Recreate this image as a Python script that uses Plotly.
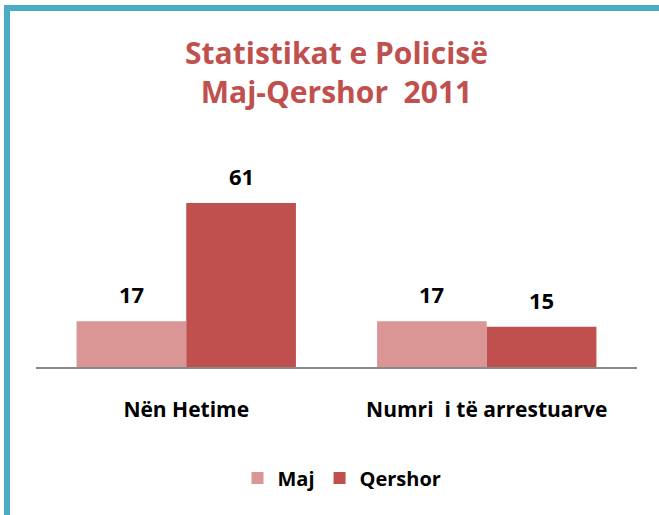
import plotly.graph_objects as go

categories = ["Nën Hetime", "Numri  i të arrestuarve"]
series_names = ["Maj", "Qershor"]
maj_values = [17, 17]
qershor_values = [61, 15]
colors = ["#D99694", "#C0504D"]

FONT = "Open Sans"
W, H = 659, 515
ml, mr, mt, mb = 36, 22, 152, 148
plot_w = W - ml - mr
plot_h = H - mt - mb

cat_labels = ["<b>" + c.replace("  ", "\u00a0 ") + "</b>" for c in categories]

fig = go.Figure()
for name, vals, col in zip(series_names, [maj_values, qershor_values], colors):
    fig.add_trace(go.Bar(x=cat_labels, y=vals, name=f"<b>{name}</b>",
                         marker=dict(color=col, line=dict(width=0))))

bargap = 0.27
group_w = (1 - bargap) * plot_w / 2
bar_w = group_w / 2
annotations = []
for i, vals in enumerate([maj_values, qershor_values]):
    shift = (i - 0.5) * bar_w
    for c, v in zip(cat_labels, vals):
        annotations.append(dict(x=c, y=v, xref="x", yref="y", text=f"<b>{v}</b>", showarrow=False,
                                xshift=shift, yanchor="bottom", yshift=10,
                                font=dict(family=FONT, size=22, color="#000000")))

fig.update_layout(
    width=W, height=H,
    margin=dict(l=ml, r=mr, t=mt, b=mb),
    paper_bgcolor="white", plot_bgcolor="white",
    barmode="group", bargap=bargap, bargroupgap=0,
    title=dict(text="<b>Statistikat e Policisë<br>Maj-Qershor\u00a0 2011</b>", x=0.5, xref="paper",
               y=1 - 64 / H, yref="container", yanchor="top", xanchor="center",
               font=dict(family=FONT, size=30, color="#C0504D")),
    xaxis=dict(showline=True, linecolor="#898989", linewidth=2, ticks="outside", ticklen=23,
               tickcolor="rgba(0,0,0,0)", tickfont=dict(family=FONT, size=21, color="#000000"),
               showgrid=False, fixedrange=True),
    yaxis=dict(range=[0, 80], visible=False, showgrid=False, zeroline=False),
    showlegend=True,
    legend=dict(orientation="h", x=(342 - ml) / plot_w, xanchor="center", y=(367 - 478) / plot_h, yanchor="middle",
                font=dict(family=FONT, size=20, color="#000000"), traceorder="normal"),
    annotations=annotations,
    shapes=[dict(type="rect", xref="paper", yref="paper",
                 x0=(7 - ml) / plot_w, x1=(720 - ml) / plot_w,
                 y0=(367 - 580) / plot_h, y1=(367 - 8) / plot_h,
                 line=dict(color="#4BACC6", width=6), fillcolor="rgba(0,0,0,0)", layer="above")],
)
fig.write_html("out.html", config={"displayModeBar": False},
               post_script="document.body.style.margin='0';document.body.style.padding='0';")
